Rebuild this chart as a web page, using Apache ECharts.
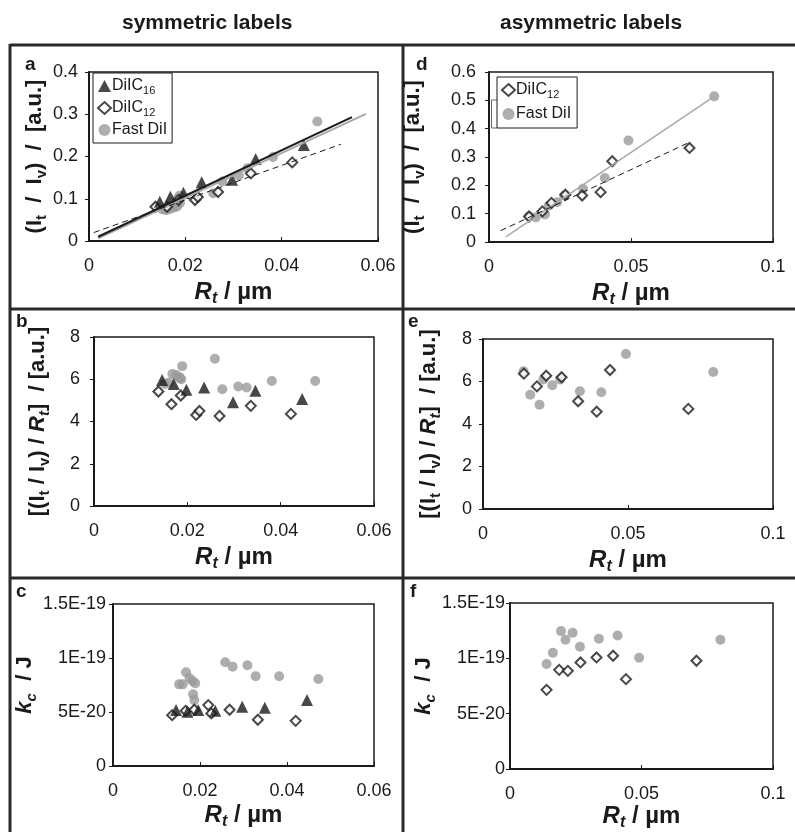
<!DOCTYPE html>
<html><head><meta charset="utf-8">
<script src="https://cdn.jsdelivr.net/npm/echarts@6/dist/echarts.min.js"></script>
<style>html,body{margin:0;padding:0;background:#fff}#c{width:795px;height:832px}</style>
</head><body><div id="c"></div>
<script>
// ---------- DATA ----------
// x ticks
const xTicksSym = ['0', '0.02', '0.04', '0.06'];
const xTicksAsym = ['0', '0.05', '0.1'];
// y ticks
const yTicksA = ['0', '0.1', '0.2', '0.3', '0.4'];
const yTicksD = ['0', '0.1', '0.2', '0.3', '0.4', '0.5', '0.6'];
const yTicksRatio = ['0', '2', '4', '6', '8'];
const yTicksK = ['0', '5E-20', '1E-19', '1.5E-19'];

// Panel a: (It/Iv) vs Rt, symmetric labels
const aDiIC16 = [[0.0147,0.093],[0.0169,0.105],[0.0196,0.114],[0.0234,0.139],[0.0297,0.145],[0.0346,0.194],[0.0446,0.227]];
const aDiIC12 = [[0.0138,0.081],[0.0162,0.081],[0.0186,0.097],[0.0220,0.097],[0.0226,0.104],[0.0268,0.116],[0.0336,0.160],[0.0422,0.186]];
const aFastDiI = [[0.0152,0.075],[0.0160,0.073],[0.0168,0.076],[0.0176,0.079],[0.0183,0.082],[0.0189,0.090],[0.0184,0.100],[0.0188,0.107],[0.0258,0.113],[0.0277,0.141],[0.0311,0.155],[0.0329,0.172],[0.0382,0.199],[0.0474,0.283]];
const aFit16 = [[0.0019,0.010],[0.0546,0.293]];
const aFitFast = [[0.0019,0.006],[0.0575,0.301]];
const aFit12 = [[0.0010,0.020],[0.0523,0.229]];

// Panel b: [(It/Iv)/Rt] vs Rt, symmetric labels
const bDiIC16 = [[0.0146,5.97],[0.0171,5.78],[0.0198,5.50],[0.0236,5.61],[0.0298,4.91],[0.0346,5.45],[0.0446,5.07]];
const bDiIC12 = [[0.0138,5.42],[0.0166,4.82],[0.0186,5.23],[0.0219,4.31],[0.0226,4.50],[0.0269,4.26],[0.0336,4.74],[0.0422,4.36]];
const bFastDiI = [[0.0152,5.78],[0.0160,5.84],[0.0168,6.25],[0.0176,6.20],[0.0183,6.10],[0.0189,6.62],[0.0184,6.05],[0.0187,6.00],[0.0259,6.97],[0.0275,5.53],[0.0309,5.66],[0.0327,5.61],[0.0381,5.92],[0.0474,5.92]];

// Panel c: kc vs Rt, symmetric labels
const cDiIC16 = [[0.0145,5.18e-20],[0.0171,5.02e-20],[0.0196,5.18e-20],[0.0235,5.11e-20],[0.0297,5.49e-20],[0.0349,5.39e-20],[0.0446,6.10e-20]];
const cDiIC12 = [[0.0136,4.71e-20],[0.0167,5.11e-20],[0.0187,5.21e-20],[0.0219,5.64e-20],[0.0226,4.87e-20],[0.0268,5.21e-20],[0.0333,4.28e-20],[0.0420,4.18e-20]];
const cFastDiI = [[0.0152,7.56e-20],[0.0160,7.56e-20],[0.0168,8.68e-20],[0.0176,8.12e-20],[0.0183,7.87e-20],[0.0189,7.66e-20],[0.0184,6.64e-20],[0.0187,6.10e-20],[0.0258,9.61e-20],[0.0275,9.20e-20],[0.0309,9.33e-20],[0.0328,8.31e-20],[0.0382,8.31e-20],[0.0472,8.06e-20]];

// Panel d: (It/Iv) vs Rt, asymmetric labels
const dDiIC12 = [[0.0141,0.090],[0.0188,0.108],[0.0220,0.138],[0.0269,0.167],[0.0328,0.164],[0.0393,0.176],[0.0434,0.285],[0.0706,0.332]];
const dFastDiI = [[0.0141,0.091],[0.0165,0.087],[0.0197,0.097],[0.0211,0.129],[0.0240,0.140],[0.0265,0.164],[0.0331,0.188],[0.0408,0.226],[0.0491,0.358],[0.0793,0.514]];
const dFit12 = [[0.0041,0.040],[0.0708,0.353]];
const dFitFast = [[0.0059,0.018],[0.0793,0.514]];

// Panel e: [(It/Iv)/Rt] vs Rt, asymmetric labels
const eDiIC12 = [[0.0141,6.37],[0.0186,5.77],[0.0218,6.27],[0.0271,6.20],[0.0328,5.07],[0.0392,4.58],[0.0438,6.54],[0.0708,4.71]];
const eFastDiI = [[0.0140,6.48],[0.0163,5.38],[0.0195,4.91],[0.0208,6.09],[0.0239,5.82],[0.0266,6.09],[0.0334,5.54],[0.0408,5.49],[0.0493,7.29],[0.0794,6.45]];

// Panel f: kc vs Rt, asymmetric labels
const fDiIC12 = [[0.0139,7.15e-20],[0.0187,8.96e-20],[0.0220,8.87e-20],[0.0268,9.63e-20],[0.0329,1.008e-19],[0.0392,1.023e-19],[0.0441,8.12e-20],[0.0709,9.78e-20]];
const fFastDiI = [[0.0139,9.48e-20],[0.0163,1.05e-19],[0.0194,1.246e-19],[0.0211,1.168e-19],[0.0238,1.231e-19],[0.0266,1.105e-19],[0.0338,1.177e-19],[0.0409,1.207e-19],[0.0491,1.005e-19],[0.0800,1.168e-19]];

// ---------- STYLE / LAYOUT ----------
const FONT = '"Liberation Sans", Arial, Helvetica, sans-serif';
const INK = '#1a1a1a';
const GRAY = '#9a9a9a';
const LINEGRAY = '#a8a8a8';

const titleRich = {
  p: {fontFamily: FONT, fontWeight: 'bold', fontSize: 22, color: INK, lineHeight: 28},
  i: {fontFamily: FONT, fontWeight: 'bold', fontStyle: 'italic', fontSize: 22, color: INK, lineHeight: 28},
  s: {fontFamily: FONT, fontWeight: 'bold', fontSize: 15, color: INK, lineHeight: 16, verticalAlign: 'bottom'},
  si: {fontFamily: FONT, fontWeight: 'bold', fontStyle: 'italic', fontSize: 15, color: INK, lineHeight: 16, verticalAlign: 'bottom'},
  xp: {fontFamily: FONT, fontWeight: 'bold', fontSize: 24, color: INK, lineHeight: 30},
  xi: {fontFamily: FONT, fontWeight: 'bold', fontStyle: 'italic', fontSize: 24, color: INK, lineHeight: 30},
  xs: {fontFamily: FONT, fontWeight: 'bold', fontStyle: 'italic', fontSize: 16, color: INK, lineHeight: 17, verticalAlign: 'bottom'}
};
const xName = '{xi|R}{xs|t}{xp| / µm}';
const yNameRatio1 = '{p|(I}{s|t}{p|  /  I}{s|v}{p|)  /  [a.u.]}';
const yNameRatio2 = '{p|[(I}{s|t}{p| / I}{s|v}{p|) / }{i|R}{si|t}{p|]  / [a.u.]}';
const yNameK = '{i|k}{si|c}{p|  / J}';

const grids = [
  {left: 89, top: 72, width: 289, height: 169},   // a
  {left: 94, top: 337, width: 280, height: 169},  // b
  {left: 113, top: 604, width: 261, height: 162}, // c
  {left: 489, top: 72, width: 284, height: 170},  // d
  {left: 483, top: 339, width: 290, height: 170}, // e
  {left: 510, top: 603, width: 263, height: 166}  // f
].map(g => Object.assign({show: true, borderColor: INK, borderWidth: 1.5, backgroundColor: '#fff'}, g));

function xAxis(gi, max, interval, labels, gap) {
  return {
    type: 'value', gridIndex: gi, min: 0, max: max, interval: interval,
    axisLine: {show: true, onZero: false, lineStyle: {color: INK, width: 2}},
    axisTick: {show: true, inside: true, length: 4, lineStyle: {color: INK}},
    splitLine: {show: false},
    axisLabel: {margin: 16, color: INK, fontFamily: FONT, fontSize: 18,
      formatter: (v, i) => labels[i] !== undefined ? labels[i] : ''},
    name: xName, nameLocation: 'middle', nameGap: gap,
    nameTextStyle: {rich: titleRich}
  };
}
function yAxis(gi, max, interval, labels, name, gap, margin) {
  return {
    type: 'value', gridIndex: gi, min: 0, max: max, interval: interval,
    axisLine: {show: true, onZero: false, lineStyle: {color: INK, width: 2}},
    axisTick: {show: true, inside: false, length: 4, lineStyle: {color: INK}},
    splitLine: {show: false},
    axisLabel: {margin: margin, color: INK, fontFamily: FONT, fontSize: 18,
      formatter: (v, i) => labels[i] !== undefined ? labels[i] : ''},
    name: name, nameLocation: 'middle', nameGap: gap, nameRotate: 90,
    nameTextStyle: {rich: titleRich}
  };
}

const xAxes = [
  xAxis(0, 0.06, 0.02, xTicksSym, 36),
  xAxis(1, 0.06, 0.02, xTicksSym, 36),
  xAxis(2, 0.06, 0.02, xTicksSym, 34),
  xAxis(3, 0.1, 0.05, xTicksAsym, 36),
  xAxis(4, 0.1, 0.05, xTicksAsym, 36),
  xAxis(5, 0.1, 0.05, xTicksAsym, 32)
];
const yAxes = [
  yAxis(0, 0.4, 0.1, yTicksA, yNameRatio1, 40, 11),
  yAxis(1, 8, 2, yTicksRatio, yNameRatio2, 42, 14),
  yAxis(2, 1.5e-19, 5e-20, yTicksK, yNameK, 62, 7),
  yAxis(3, 0.6, 0.1, yTicksD, yNameRatio1, 62, 13),
  yAxis(4, 8, 2, yTicksRatio, yNameRatio2, 40, 11),
  yAxis(5, 1.5e-19, 5e-20, yTicksK, yNameK, 70, 5)
];

const sym16 = {symbol: 'triangle', symbolSize: 12, itemStyle: {color: INK}};
const sym12 = {symbol: 'diamond', symbolSize: 10, itemStyle: {color: '#fff', borderColor: INK, borderWidth: 2}};
const symFast = {symbol: 'circle', symbolSize: 10, itemStyle: {color: GRAY}};

function sc(name, gi, data, style, z) {
  return Object.assign({type: 'scatter', name: name, xAxisIndex: gi, yAxisIndex: gi, data: data, z: z}, style);
}
function fit(gi, data, color, width, type) {
  return {type: 'line', name: 'fit', xAxisIndex: gi, yAxisIndex: gi, data: data, symbol: 'none',
    silent: true, z: 5, lineStyle: {color: color, width: width, type: type}};
}

const series = [
  sc('Fast DiI', 0, aFastDiI, symFast, 2), sc('DiIC12', 0, aDiIC12, sym12, 3), sc('DiIC16', 0, aDiIC16, sym16, 4),
  fit(0, aFitFast, LINEGRAY, 2, 'solid'), fit(0, aFit16, INK, 2, 'solid'), fit(0, aFit12, INK, 1, [6, 4]),
  sc('Fast DiI', 1, bFastDiI, symFast, 2), sc('DiIC12', 1, bDiIC12, sym12, 3), sc('DiIC16', 1, bDiIC16, sym16, 4),
  sc('Fast DiI', 2, cFastDiI, symFast, 2), sc('DiIC12', 2, cDiIC12, sym12, 3), sc('DiIC16', 2, cDiIC16, sym16, 4),
  sc('Fast DiI', 3, dFastDiI, symFast, 2), sc('DiIC12', 3, dDiIC12, sym12, 3),
  fit(3, dFitFast, LINEGRAY, 1.5, 'solid'), fit(3, dFit12, INK, 1, [6, 4]),
  sc('Fast DiI', 4, eFastDiI, symFast, 2), sc('DiIC12', 4, eDiIC12, sym12, 3),
  sc('Fast DiI', 5, fFastDiI, symFast, 2), sc('DiIC12', 5, fDiIC12, sym12, 3)
];

const legendRich = {
  m: {fontFamily: FONT, fontSize: 16, color: INK, lineHeight: 20},
  s: {fontFamily: FONT, fontSize: 11, color: INK, lineHeight: 12, verticalAlign: 'bottom'}
};
function legendFmt(n) {
  if (n === 'DiIC16') return '{m|DiIC}{s|16}';
  if (n === 'DiIC12') return '{m|DiIC}{s|12}';
  return '{m|' + n + '}';
}
function legendBase(gap, pad) {
  return {
    orient: 'vertical', itemGap: gap, itemWidth: 13, itemHeight: 12, padding: pad,
    backgroundColor: '#fff', borderColor: INK, borderWidth: 1, borderRadius: 0,
    formatter: legendFmt, textStyle: {rich: legendRich, padding: [0, 0, 0, -4]}, selectedMode: false
  };
}
const legends = [
  Object.assign({left: 93, top: 73, data: ['DiIC16', 'DiIC12', 'Fast DiI']}, legendBase(4, [5, 5, 5, 4])),
  Object.assign({left: 497, top: 77, data: ['DiIC12', 'Fast DiI']}, legendBase(6, [5, 6, 6, 4]))
];

const lineStyle = {stroke: '#2a2a2a', lineWidth: 3};
const titleStyle = {fontFamily: FONT, fontWeight: 'bold', fontSize: 21, fill: INK, align: 'left', verticalAlign: 'top'};
const letterStyle = {fontFamily: FONT, fontWeight: 'bold', fontSize: 19, fill: INK, align: 'left', verticalAlign: 'middle'};
const graphic = [
  {type: 'text', left: 122, top: 13, style: Object.assign({}, titleStyle, {text: 'symmetric labels'})},
  {type: 'text', left: 500, top: 13, style: Object.assign({}, titleStyle, {text: 'asymmetric labels'})},
  {type: 'line', shape: {x1: 10, y1: 45, x2: 800, y2: 45}, style: lineStyle},
  {type: 'line', shape: {x1: 10, y1: 309, x2: 800, y2: 309}, style: lineStyle},
  {type: 'line', shape: {x1: 10, y1: 578, x2: 800, y2: 578}, style: lineStyle},
  {type: 'line', shape: {x1: 10, y1: 44, x2: 10, y2: 840}, style: lineStyle},
  {type: 'line', shape: {x1: 403, y1: 44, x2: 403, y2: 840}, style: lineStyle},
  {type: 'polyline', shape: {points: [[497, 100], [491.5, 100], [491.5, 128], [497, 128]]}, style: {stroke: '#666', lineWidth: 1, fill: null}},
  {type: 'text', x: 25, y: 65, style: Object.assign({}, letterStyle, {text: 'a'})},
  {type: 'text', x: 16, y: 322, style: Object.assign({}, letterStyle, {text: 'b'})},
  {type: 'text', x: 16, y: 592, style: Object.assign({}, letterStyle, {text: 'c'})},
  {type: 'text', x: 416, y: 65, style: Object.assign({}, letterStyle, {text: 'd'})},
  {type: 'text', x: 408, y: 322, style: Object.assign({}, letterStyle, {text: 'e'})},
  {type: 'text', x: 410, y: 592, style: Object.assign({}, letterStyle, {text: 'f'})}
];

const chart = echarts.init(document.getElementById('c'), null, {renderer: 'canvas'});
chart.setOption({
  animation: false,
  backgroundColor: '#fff',
  grid: grids, xAxis: xAxes, yAxis: yAxes, series: series,
  legend: legends, graphic: graphic
});
</script></body></html>
